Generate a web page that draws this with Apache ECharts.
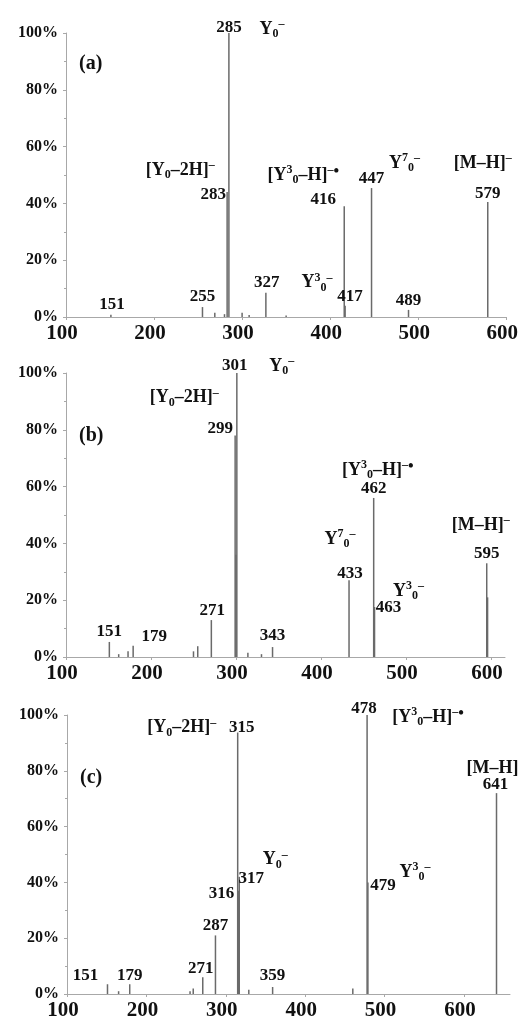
<!DOCTYPE html>
<html>
<head>
<meta charset="utf-8">
<script src="https://cdn.jsdelivr.net/npm/echarts@6/dist/echarts.min.js"></script>
<style>html,body{margin:0;padding:0;background:#fff}#c{width:521px;height:1021px}</style>
</head>
<body>
<div id="c"></div>
<script>
// ---------- DATA (m/z, relative intensity %) ----------
const peaksA = [[151,0.8],[255,3.5],[269,1.5],[280,1],[283,44],[285,100],[300,1.5],[308,0.7],[327,8.5],[350,0.5],[416,39],[417,4],[447,45.4],[489,2.5],[579,40.5]];
const peaksB = [[151,5.3],[162,1],[173,2],[179,4],[250,2],[255,3.8],[271,13],[299,78],[300,36],[301,100],[314,1.5],[330,1],[343,3.5],[433,27],[462,56],[463,17.6],[595,33],[596,21]];
const peaksC = [[151,3.5],[165,1],[179,3.5],[255,1],[259,2],[271,6],[287,21],[315,93.7],[316,37],[317,42],[329,1.5],[359,2.5],[460,2],[478,100],[479,40],[641,72]];

const xTicksLabel = [100, 200, 300, 400, 500, 600];
const yTicksLabel = [0, 20, 40, 60, 80, 100];
const panelNames = ['(a)', '(b)', '(c)'];

// label texts: [m/z of peak the label belongs to, text]
const ionY0 = '{b|Y}{sub|0}{sup|–}';
const ionY02H = '{b|[Y}{sub|0}{b|–2H]}{sup|–}';
const ionY3H = '{b|[Y}{sup|3}{sub|0}{b|–H]}{sup|–}{dot|•}';
const ionY7 = '{b|Y}{sup|7}{sub|0}{sup|–}';
const ionY3 = '{b|Y}{sup|3}{sub|0}{sup|–}';
const ionMH = '{b|[M–H]}{sup|–}';
const ionMHc = '{b|[M–H]}';

const labelsA = [[285,'285'],[285,ionY0],[283,'283'],[283,ionY02H],[416,'416'],[416,ionY3H],[417,'417'],[417,ionY3],[447,'447'],[447,ionY7],[579,'579'],[579,ionMH],[327,'327'],[255,'255'],[489,'489'],[151,'151']];
const labelsB = [[301,'301'],[301,ionY0],[299,'299'],[299,ionY02H],[462,'462'],[462,ionY3H],[463,'463'],[463,ionY3],[433,'433'],[433,ionY7],[595,'595'],[595,ionMH],[271,'271'],[151,'151'],[179,'179'],[343,'343']];
const labelsC = [[315,'315'],[315,ionY02H],[478,'478'],[478,ionY3H],[641,'641'],[641,ionMHc],[317,'317'],[317,ionY0],[316,'316'],[479,'479'],[479,ionY3],[287,'287'],[271,'271'],[359,'359'],[151,'151'],[179,'179']];

// ---------- LAYOUT (pixel offsets of label centres from peak tops) ----------
const offA = [[0,-5],[43,-4],[-14,3],[-47,-22],[-21,-7],[-41,-31],[5,-9],[-28,-23],[0,-9],[33,-25],[0,-8],[-5,-39],[1,-10],[0,-10],[0,-9],[1,-10]];
const offB = [[-2,-7],[45,-7],[-15,-7],[-51,-38],[0,-9],[4,-28],[14,1],[34,-16],[1,-7],[-9,-41],[0,-10],[-6,-38],[1,-9],[0,-10],[21,-9],[0,-11]];
const offC = [[4,-5],[-56,-5],[-3,-6],[61,2],[-1,-9],[-4,-25],[12,2],[36,-17],[-17,3],[15,3],[47,-10],[0,-10],[-2,-9],[0,-11],[-22,-9],[0,-9]];

const grids = [
  {left: 66, top: 33, width: 441, height: 284},
  {left: 66, top: 373, width: 439, height: 284},
  {left: 67, top: 715, width: 443, height: 287}
];
const xMax = [600, 616.5, 658];

const FONT = '"Liberation Serif", "DejaVu Serif", serif';
const AX = '#a8a8a8';
const rich = {
  b: {fontFamily: FONT, fontWeight: 'bold', fontSize: 18, lineHeight: 22, color: '#111'},
  sub: {fontFamily: FONT, fontWeight: 'bold', fontSize: 12, lineHeight: 11, verticalAlign: 'bottom', color: '#111'},
  sup: {fontFamily: FONT, fontWeight: 'bold', fontSize: 12, lineHeight: 11, verticalAlign: 'top', color: '#111'},
  dot: {fontFamily: FONT, fontWeight: 'bold', fontSize: 16, lineHeight: 14, verticalAlign: 'top', color: '#111'}
};

const chart = echarts.init(document.getElementById('c'), null, {renderer: 'canvas'});
const peaksAll = [peaksA, peaksB, peaksC];
const labelsAll = [labelsA, labelsB, labelsC];
const offAll = [offA, offB, offC];

const xAxes = [], yAxes = [], series = [], graphics = [];
for (let i = 0; i < 3; i++) {
  xAxes.push({
    gridIndex: i, type: 'value', min: 100, max: xMax[i], interval: 100,
    axisLine: {show: true, lineStyle: {color: AX, width: 1}},
    axisTick: {show: true, length: 3, lineStyle: {color: AX}},
    splitLine: {show: false},
    axisLabel: {
      show: true, margin: 6, showMaxLabel: xMax[i] === 600,
      fontFamily: FONT, fontWeight: 'bold', fontSize: 21, color: '#111',
      padding: [0, 8, 0, 0],
      formatter: v => (xTicksLabel.indexOf(v) >= 0 ? String(v) : '')
    }
  });
  yAxes.push({
    gridIndex: i, type: 'value', min: 0, max: 100, interval: 20,
    axisLine: {show: true, lineStyle: {color: AX, width: 1}},
    axisTick: {show: true, length: 3, lineStyle: {color: AX}},
    minorTick: {show: true, splitNumber: 2, length: 2, lineStyle: {color: AX}},
    splitLine: {show: false},
    axisLabel: {
      margin: 8, fontFamily: FONT, fontWeight: 'bold', fontSize: 16, color: '#111',
      formatter: v => (yTicksLabel.indexOf(v) >= 0 ? v + '%' : '')
    }
  });
  series.push({
    type: 'bar', xAxisIndex: i, yAxisIndex: i,
    data: peaksAll[i], barWidth: 1.5,
    itemStyle: {color: '#6a6a6a'}, silent: true, animation: false
  });
  const lookup = {};
  peaksAll[i].forEach(p => { lookup[p[0]] = p[1]; });
  series.push({
    type: 'scatter', xAxisIndex: i, yAxisIndex: i, symbolSize: 0, silent: true, animation: false,
    clip: false,
    itemStyle: {opacity: 1},
    data: labelsAll[i].map((l, k) => ({
      value: [l[0], lookup[l[0]]],
      itemStyle: {opacity: 1},
      label: {
        show: true, position: [0, 0], align: 'center', verticalAlign: 'middle',
        offset: offAll[i][k], opacity: 1,
        formatter: l[1],
        fontFamily: FONT, fontWeight: 'bold', fontSize: 17, color: '#111',
        rich: rich
      }
    }))
  });
  graphics.push({
    type: 'text', left: grids[i].left + 13, top: grids[i].top + (i === 0 ? 21 : 53),
    style: {text: panelNames[i], font: 'bold 20px ' + FONT, fill: '#111'}
  });
}

chart.setOption({
  animation: false,
  backgroundColor: '#fff',
  grid: grids,
  xAxis: xAxes,
  yAxis: yAxes,
  series: series,
  graphic: graphics
});
</script>
</body>
</html>
